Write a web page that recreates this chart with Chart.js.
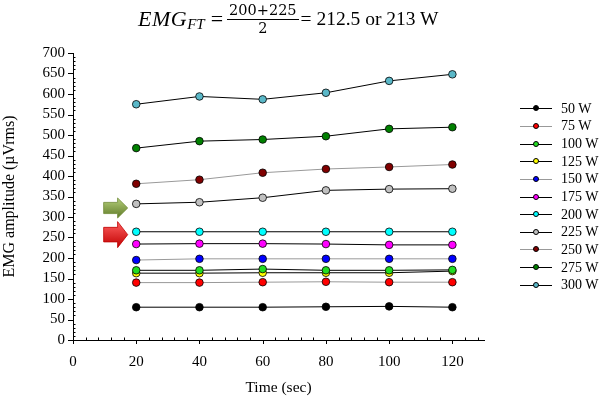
<!DOCTYPE html>
<html>
<head>
<meta charset="utf-8">
<script src="https://cdn.jsdelivr.net/npm/chart.js@4/dist/chart.umd.min.js"></script>
<style>
  html, body { margin: 0; padding: 0; background: #fff; }
  #wrap { position: relative; width: 600px; height: 397px; overflow: hidden; }
  #chart { position: absolute; left: 0; top: 0; }
  #title { position: absolute; left: 138px; top: 0px; height: 38px; font-family: 'Liberation Serif', serif; color: #000; white-space: nowrap; display: flex; align-items: center; }
  #title .emg { font-style: italic; font-size: 22px; letter-spacing: 0.5px; }
  #title .sub { font-style: italic; font-size: 15px; position: relative; top: 5px; }
  #title .eq { font-size: 22px; margin: 0 4px 0 6px; }
  #title .frac { display: inline-flex; flex-direction: column; align-items: center; font-family: 'DejaVu Serif', serif; font-size: 14.5px; line-height: 15px; }
  #title .frac .num { border-bottom: 1px solid #000; padding: 0 2px 1px 2px; }
  #title .frac .den { padding-top: 1px; }
  #title .rest { font-size: 19.5px; margin-left: 2px; }
  #legend { position: absolute; left: 520px; top: 100px; font-family: 'Liberation Serif', serif; font-size: 14px; color: #000; }
  #legend .row { height: 17.65px; display: flex; align-items: center; }
  #legend .sym { position: relative; width: 32px; height: 10px; margin-right: 9px; }
  #legend .sym .ln { position: absolute; left: 0; top: 4.5px; width: 32px; height: 1px; }
  #legend .sym .dot { position: absolute; left: 12.5px; top: 1.5px; width: 6px; height: 6px; border-radius: 50%; border: 0.5px solid #000; box-sizing: border-box; }
</style>
</head>
<body>
<div id="wrap">
  <canvas id="chart" width="600" height="397"></canvas>
  <div id="title">
    <span class="emg">EMG</span><span class="sub">FT</span>
    <span class="eq">=</span>
    <span class="frac"><span class="num">200+225</span><span class="den">2</span></span>
    <span class="rest">= 212.5 or 213 W</span>
  </div>
  <div id="legend"></div>
</div>
<script>
// ---- data ----
const times = [20, 40, 60, 80, 100, 120];
const seriesNames = ['50 W', '75 W', '100 W', '125 W', '150 W', '175 W', '200 W', '225 W', '250 W', '275 W', '300 W'];
const w50  = [80, 80, 80, 81, 82, 80];
const w75  = [140, 140, 141, 142, 141, 141];
const w100 = [170, 170, 173, 170, 170, 171];
const w125 = [163, 163, 164, 164, 164, 168];
const w150 = [195, 198, 198, 198, 198, 198];
const w175 = [234, 235, 235, 234, 232, 232];
const w200 = [264, 264, 264, 264, 264, 264];
const w225 = [332, 336, 347, 365, 368, 369];
const w250 = [381, 391, 408, 417, 422, 428];
const w275 = [468, 485, 489, 497, 515, 519];
const w300 = [575, 594, 587, 603, 632, 648];
const seriesValues = [w50, w75, w100, w125, w150, w175, w200, w225, w250, w275, w300];
const xTickLabels = [0, 20, 40, 60, 80, 100, 120];
const yTickLabels = [0, 50, 100, 150, 200, 250, 300, 350, 400, 450, 500, 550, 600, 650, 700];
// annotation arrows (data coords): x start, x end, y centre
const arrowGreen = { x0: 9.7, x1: 17.3, y: 322 };
const arrowRed = { x0: 9.7, x1: 17.3, y: 257 };

// ---- styles ----
const markerColors = ['#000000', '#ff0000', '#22dd22', '#ffff00', '#0000ff', '#ff00ff', '#00ffff', '#c0c0c0', '#800000', '#008000', '#5ab8c8'];
const lineColors = ['#000000', '#999999', '#000000', '#000000', '#999999', '#000000', '#000000', '#000000', '#999999', '#000000', '#000000'];

const datasets = seriesNames.map((name, i) => ({
  label: name,
  data: times.map((t, j) => ({ x: t, y: seriesValues[i][j] })),
  borderColor: lineColors[i],
  borderWidth: 1,
  backgroundColor: markerColors[i],
  pointBackgroundColor: markerColors[i],
  pointBorderColor: '#000',
  pointBorderWidth: 0.8,
  pointRadius: 3.8,
  pointHoverRadius: 3.8,
  tension: 0,
  fill: false
}));

// legend (HTML)
const legend = document.getElementById('legend');
seriesNames.forEach((name, i) => {
  const row = document.createElement('div');
  row.className = 'row';
  row.innerHTML = '<span class="sym"><span class="ln" style="background:' + lineColors[i] + '"></span><span class="dot" style="background:' + markerColors[i] + '"></span></span><span>' + name + '</span>';
  legend.appendChild(row);
});

// custom ticks: major outward, minor inward
const tickPlugin = {
  id: 'ticks2',
  afterDraw(chart) {
    const ctx = chart.ctx;
    const xs = chart.scales.x, ys = chart.scales.y;
    ctx.save();
    ctx.strokeStyle = '#000';
    ctx.lineWidth = 1;
    ctx.beginPath();
    for (let v = 0; v <= 130; v += 4) {
      const px = Math.round(xs.getPixelForValue(v)) + 0.5;
      const major = v % 20 === 0;
      if (major) { ctx.moveTo(px, ys.bottom); ctx.lineTo(px, ys.bottom + 4); }
      else { ctx.moveTo(px, ys.bottom); ctx.lineTo(px, ys.bottom - 2.5); }
    }
    for (let v = 0; v <= 700; v += 10) {
      const py = Math.round(ys.getPixelForValue(v)) + 0.5;
      const major = v % 50 === 0;
      if (major) { ctx.moveTo(xs.left, py); ctx.lineTo(xs.left - 5, py); }
      else { ctx.moveTo(xs.left, py); ctx.lineTo(xs.left + 2.5, py); }
    }
    ctx.stroke();
    ctx.restore();
  }
};

function drawArrow(ctx, x0, x1, yc, h, c1, c2, edge) {
  const headLen = (x1 - x0) * 0.42;
  const shaftH = h * 0.56;
  const g = ctx.createLinearGradient(0, yc - h / 2, 0, yc + h / 2);
  g.addColorStop(0, c1);
  g.addColorStop(1, c2);
  ctx.beginPath();
  ctx.moveTo(x0, yc - shaftH / 2);
  ctx.lineTo(x1 - headLen, yc - shaftH / 2);
  ctx.lineTo(x1 - headLen, yc - h / 2);
  ctx.lineTo(x1, yc);
  ctx.lineTo(x1 - headLen, yc + h / 2);
  ctx.lineTo(x1 - headLen, yc + shaftH / 2);
  ctx.lineTo(x0, yc + shaftH / 2);
  ctx.closePath();
  ctx.fillStyle = g;
  ctx.fill();
  ctx.strokeStyle = edge;
  ctx.lineWidth = 0.8;
  ctx.stroke();
}

const arrowPlugin = {
  id: 'arrows',
  afterDatasetsDraw(chart) {
    const ctx = chart.ctx;
    const xs = chart.scales.x, ys = chart.scales.y;
    ctx.save();
    drawArrow(ctx, xs.getPixelForValue(arrowGreen.x0), xs.getPixelForValue(arrowGreen.x1), ys.getPixelForValue(arrowGreen.y), 20, '#b5cf7a', '#5f7a28', '#6f8a35');
    drawArrow(ctx, xs.getPixelForValue(arrowRed.x0), xs.getPixelForValue(arrowRed.x1), ys.getPixelForValue(arrowRed.y), 26, '#ff6060', '#c00000', '#c00000');
    ctx.restore();
  }
};

const tickFont = { family: "'Liberation Serif', serif", size: 15 };

new Chart(document.getElementById('chart'), {
  type: 'line',
  data: { datasets },
  plugins: [tickPlugin, arrowPlugin],
  options: {
    responsive: false,
    animation: false,
    events: [],
    layout: { padding: { left: 0, right: 116, top: 53, bottom: 0 } },
    plugins: { legend: { display: false }, tooltip: { enabled: false }, title: { display: false } },
    scales: {
      x: {
        type: 'linear',
        min: 0, max: 130,
        afterBuildTicks: (s) => { s.ticks = xTickLabels.map(v => ({ value: v })); },
        afterFit: (s) => { s.height = 57; },
        ticks: { font: tickFont, color: '#000', padding: 13, maxRotation: 0, autoSkip: false },
        grid: { display: false, drawTicks: false },
        border: { display: true, color: '#000', width: 1 },
        title: { display: true, text: 'Time (sec)', color: '#000', font: { family: "'Liberation Serif', serif", size: 15.5 }, padding: 0 }
      },
      y: {
        type: 'linear',
        min: 0, max: 700,
        afterBuildTicks: (s) => { s.ticks = yTickLabels.map(v => ({ value: v })); },
        afterFit: (s) => { s.width = 73; },
        ticks: { font: tickFont, color: '#000', padding: 8, autoSkip: false },
        grid: { display: false, drawTicks: false },
        border: { display: true, color: '#000', width: 1 },
        title: { display: true, text: 'EMG amplitude (µVrms)', color: '#000', font: { family: "'Liberation Serif', serif", size: 16 }, padding: 0 }
      }
    }
  }
});
</script>
</body>
</html>
